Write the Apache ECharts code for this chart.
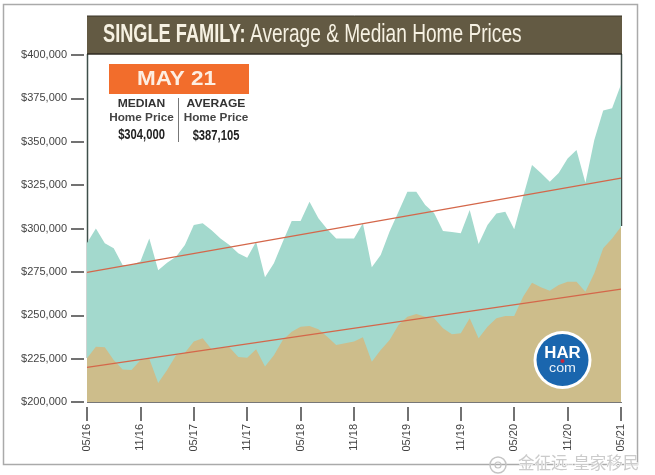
<!DOCTYPE html>
<html><head><meta charset="utf-8">
<style>html,body{margin:0;padding:0;background:#fff}#c{width:655px;height:475px}</style>
<script src="https://cdn.jsdelivr.net/npm/echarts@6/dist/echarts.min.js"></script>
</head><body><div id="c"></div>
<script>
const months = ['05/16','06/16','07/16','08/16','09/16','10/16','11/16','12/16','01/17','02/17','03/17','04/17',
'05/17','06/17','07/17','08/17','09/17','10/17','11/17','12/17','01/18','02/18','03/18','04/18',
'05/18','06/18','07/18','08/18','09/18','10/18','11/18','12/18','01/19','02/19','03/19','04/19',
'05/19','06/19','07/19','08/19','09/19','10/19','11/19','12/19','01/20','02/20','03/20','04/20',
'05/20','06/20','07/20','08/20','09/20','10/20','11/20','12/20','01/21','02/21','03/21','04/21','05/21'];
const averagePrice = [291600,300000,291500,288600,279000,279000,281000,294300,276000,280300,283700,290500,
302000,303000,299000,294300,290500,285700,283200,292400,271900,280000,292400,304300,
304300,315400,305900,299500,294300,294300,294300,303000,277600,284700,298200,309700,
321200,321200,313500,309000,298500,298000,297200,310700,291000,302000,308700,309700,
299500,318300,336600,332000,327000,332000,340400,345200,326400,351000,368000,369300,383000];
const medianPrice = [225200,231900,231500,224200,218800,218400,224000,225000,211000,218400,227000,228400,
234800,236700,230400,231000,231500,226000,225500,230400,220400,227000,235700,240500,
243400,243800,241900,237600,232900,233800,234800,237300,223200,230000,235700,244400,
249200,250700,249200,248200,242500,239000,239600,248200,236700,243400,248200,249600,
249600,260700,268800,266100,264100,267400,269300,269300,263600,274200,288600,294300,301000];
const averageTrend = [274700,329000];
const medianTrend = [220000,265000];
const titleBold = 'SINGLE FAMILY:';
const titleRest = 'Average & Median Home Prices';
const sans = '"Liberation Sans", Arial, sans-serif';

const chart = echarts.init(document.getElementById('c'), null, {renderer:'canvas'});
const txt = (x,y,text,size,weight,fill,sx,align) => ({type:'text',z:20,x,y,scaleX:sx||1,style:{text,fontSize:size,fontWeight:weight,fill,fontFamily:sans,align:align||'center',verticalAlign:'middle'}});
const ln = (x1,y1,x2,y2,stroke,lineWidth,z) => ({type:'line',z:z||20,shape:{x1,y1,x2,y2},style:{stroke,lineWidth}});
const trend = (name,vals) => ({name,type:'line',data:[[months[0],vals[0]],[months[months.length-1],vals[1]]],symbol:'none',z:5,lineStyle:{color:'#d4674a',width:1.3},silent:true});
const area = (name,data,color,z) => ({name,type:'line',data,symbol:'none',z,lineStyle:{width:0},areaStyle:{color,opacity:1},silent:true});

chart.setOption({
  animation:false,
  backgroundColor:'#fff',
  grid:{left:87,right:34,top:55,bottom:73},
  xAxis:{type:'category',data:months,boundaryGap:false,offset:5,
    axisLine:{show:false},
    axisTick:{show:true,interval:5,length:14,lineStyle:{color:'#444',width:1.5}},
    axisLabel:{interval:5,rotate:90,margin:17,fontSize:11,color:'#444',fontFamily:sans}},
  yAxis:{type:'value',min:200000,max:400000,interval:25000,offset:3,
    axisLine:{show:false},splitLine:{show:false},
    axisTick:{show:true,length:13,lineStyle:{color:'#444',width:1.5}},
    axisLabel:{margin:17,fontSize:11,color:'#444',fontFamily:sans,formatter:v=>'$'+v.toLocaleString('en-US')}},
  series:[area('Average',averagePrice,'#a3d9cd',2),area('Median',medianPrice,'#cdbd8b',3),
    trend('Average trend',averageTrend),trend('Median trend',medianTrend)],
  graphic:[
    {type:'rect',z:-1,shape:{x:3.5,y:4.5,width:634,height:460},style:{fill:'none',stroke:'#aaa',lineWidth:1.5}},
    {type:'rect',z:20,shape:{x:87,y:16,width:535,height:38},style:{fill:'#635a43'}},
    ln(87,54,622,54,'#2e2a20',1.5),
    ln(87,16,622,16,'#3a3528',1),
    Object.assign(txt(103,34.5,titleBold,26,'bold','#f6f1e2',0.70,'left'),{z:30}),
    Object.assign(txt(250,34.5,titleRest,26,'normal','#f6f1e2',0.735,'left'),{z:30}),
    ln(87.5,54,87.5,358,'#3f4f4a',1.5,1),
    ln(621.5,54,621.5,226,'#3f4f4a',1.5,1),
    ln(87,402.5,622,402.5,'#777',1.2),
    {type:'rect',z:20,shape:{x:109,y:64,width:140,height:30},style:{fill:'#f26d2c'}},
    txt(176.5,79,'MAY 21',21,'bold','#fdeee2',1.07),
    txt(141.5,104.5,'MEDIAN',10.5,'bold','#333',1.15),
    txt(141.5,118,'Home Price',10.5,'bold','#444',1.12),
    txt(141.5,135,'$304,000',14,'bold','#222',0.8),
    ln(178.5,98,178.5,142,'#777',1),
    txt(216,104.5,'AVERAGE',10.5,'bold','#333',1.15),
    txt(216,118,'Home Price',10.5,'bold','#444',1.12),
    txt(216,136,'$387,105',14,'bold','#222',0.8),
    {type:'circle',z:20,shape:{cx:562.5,cy:360,r:29},style:{fill:'#fff'}},
    {type:'circle',z:21,shape:{cx:562.5,cy:360,r:26},style:{fill:'#1a66ae'}},
    Object.assign(txt(562.5,354,'HAR',16,'bold','#fff',1.05),{z:22}),
    {type:'circle',z:23,shape:{cx:562.5,cy:361,r:2},style:{fill:'#c8263c'}},
    Object.assign(txt(562.5,368.5,'com',13,'normal','#e6eff7',1.1),{z:22}),
    {type:'circle',z:24,shape:{cx:498,cy:465,r:8},style:{fill:'none',stroke:'#c4c4c4',lineWidth:1.5}},
    {type:'circle',z:24,shape:{cx:498,cy:465,r:3},style:{fill:'none',stroke:'#c4c4c4',lineWidth:1.2}},
    {type:'text',z:24,x:518,y:463,style:{text:'金征远-皇家移民',fontSize:16.5,fill:'#cbcbcb',stroke:'#fff',lineWidth:1,fontFamily:'"Noto Sans CJK SC"',verticalAlign:'middle',align:'left'}}
  ]
});
</script></body></html>
